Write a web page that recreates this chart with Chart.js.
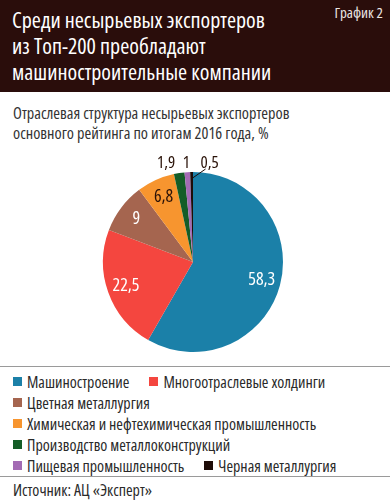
<!DOCTYPE html>
<html lang="ru">
<head>
<meta charset="utf-8">
<script src="https://cdn.jsdelivr.net/npm/chart.js@4"></script>
<style>
  body { margin: 0; width: 390px; height: 500px; background: #fff; position: relative; overflow: hidden;
         font-family: "Open Sans", sans-serif; font-stretch: condensed; }
  .head { position: absolute; left: 0; top: 0; width: 390px; height: 92px; background: #2a0d0b; }
  .title { position: absolute; left: 12px; top: 6px; color: #fff; font-size: 22px; line-height: 26px; }
  .tag { position: absolute; right: 7px; top: 2px; color: #ece6e4; font-size: 15px; }
  .sub { position: absolute; left: 13px; top: 103px; color: #333; font-size: 16.3px; line-height: 20px; }
  .plot { position: absolute; left: 0; top: 150px; width: 390px; height: 215px; }
  #legend { position: absolute; left: 0; top: 366px; width: 390px; box-sizing: border-box; padding: 4px 10px 0 13px;
            height: 111px; border-top: 1px solid #9a9a9a; border-bottom: 1px solid #9a9a9a;
            display: flex; flex-wrap: wrap; column-gap: 20px; align-content: flex-start; }
  .item { display: flex; align-items: center; height: 21px; font-size: 16px; color: #2a2a2a; white-space: nowrap; }
  .sw { width: 9px; height: 9px; margin-right: 5px; flex: none; }
  .src { position: absolute; left: 13px; top: 480px; font-size: 16px; line-height: 20px; color: #2a2a2a; }
</style>
</head>
<body>
<div class="head">
  <div class="title">Среди несырьевых экспортеров<br>из Топ-200 преобладают<br>машиностроительные компании</div>
  <div class="tag">График 2</div>
</div>
<div class="sub">Отраслевая структура несырьевых экспортеров<br>основного рейтинга по итогам 2016 года, %</div>
<div class="plot"><canvas id="pieChart" width="390" height="215"></canvas></div>
<div id="legend"></div>
<div class="src">Источник: АЦ «Эксперт»</div>
<script>
const industries = ['Машиностроение', 'Многоотраслевые холдинги', 'Цветная металлургия',
  'Химическая и нефтехимическая промышленность', 'Производство металлоконструкций',
  'Пищевая промышленность', 'Черная металлургия'];
const shares = [58.3, 22.5, 9, 6.8, 1.9, 1, 0.5];

const sliceColors = ['#1b80a8', '#f4463f', '#a5654f', '#f7952f', '#145d27', '#a36bb4', '#1e0c08'];
const labelColors = ['#fff', '#fff', '#fff', '#2a1208', '#2a1208', '#2a1208', '#2a1208'];
// horizontal nudges for the labels that sit above the thin slices
const outsideShift = [0, 0, 0, 0, -13, -1, 18];

function fmt(v) { return String(v).replace('.', ','); }

const sliceLabels = {
  id: 'sliceLabels',
  afterDatasetsDraw(chart) {
    const ctx = chart.ctx;
    const arcs = chart.getDatasetMeta(0).data;
    ctx.save();
    ctx.textAlign = 'center';
    ctx.textBaseline = 'middle';
    arcs.forEach((arc, i) => {
      const p = arc.getProps(['x', 'y', 'startAngle', 'endAngle', 'outerRadius'], true);
      const mid = (p.startAngle + p.endAngle) / 2;
      const v = chart.data.datasets[0].data[i];
      ctx.fillStyle = labelColors[i];
      if (v >= 5) {
        const r = p.outerRadius * 0.79;
        ctx.font = 'condensed 18px "Open Sans", sans-serif';
        ctx.fillText(fmt(v), p.x + Math.cos(mid) * r, p.y + Math.sin(mid) * r);
      } else {
        const ox = p.x + Math.cos(mid) * p.outerRadius;
        const oy = p.y + Math.sin(mid) * p.outerRadius;
        const lx = ox + outsideShift[i];
        const ly = p.y - p.outerRadius - 9;
        ctx.font = 'condensed 17px "Open Sans", sans-serif';
        ctx.fillText(fmt(v), lx, ly);
        if (outsideShift[i] > 10) {
          ctx.strokeStyle = '#1e0c08';
          ctx.lineWidth = 1;
          ctx.beginPath();
          ctx.moveTo(lx - 4, ly + 6);
          ctx.lineTo(ox + 1, oy + 6);
          ctx.stroke();
        }
      }
    });
    ctx.restore();
  }
};

const pieChartCtx = document.getElementById('pieChart').getContext('2d');
new Chart(pieChartCtx, {
  type: 'pie',
  data: {
    labels: industries,
    datasets: [{
      data: shares,
      backgroundColor: sliceColors,
      borderWidth: 0
    }]
  },
  options: {
    responsive: false,
    animation: false,
    layout: { padding: { top: 22, bottom: 13, left: 0, right: 4 } },
    plugins: {
      legend: { display: false },
      tooltip: { enabled: false },
      title: { display: false }
    }
  },
  plugins: [sliceLabels]
});

const legendBox = document.getElementById('legend');
industries.forEach((name, i) => {
  const item = document.createElement('div');
  item.className = 'item';
  const sw = document.createElement('span');
  sw.className = 'sw';
  sw.style.background = sliceColors[i];
  item.appendChild(sw);
  item.appendChild(document.createTextNode(name));
  legendBox.appendChild(item);
});
</script>
</body>
</html>
